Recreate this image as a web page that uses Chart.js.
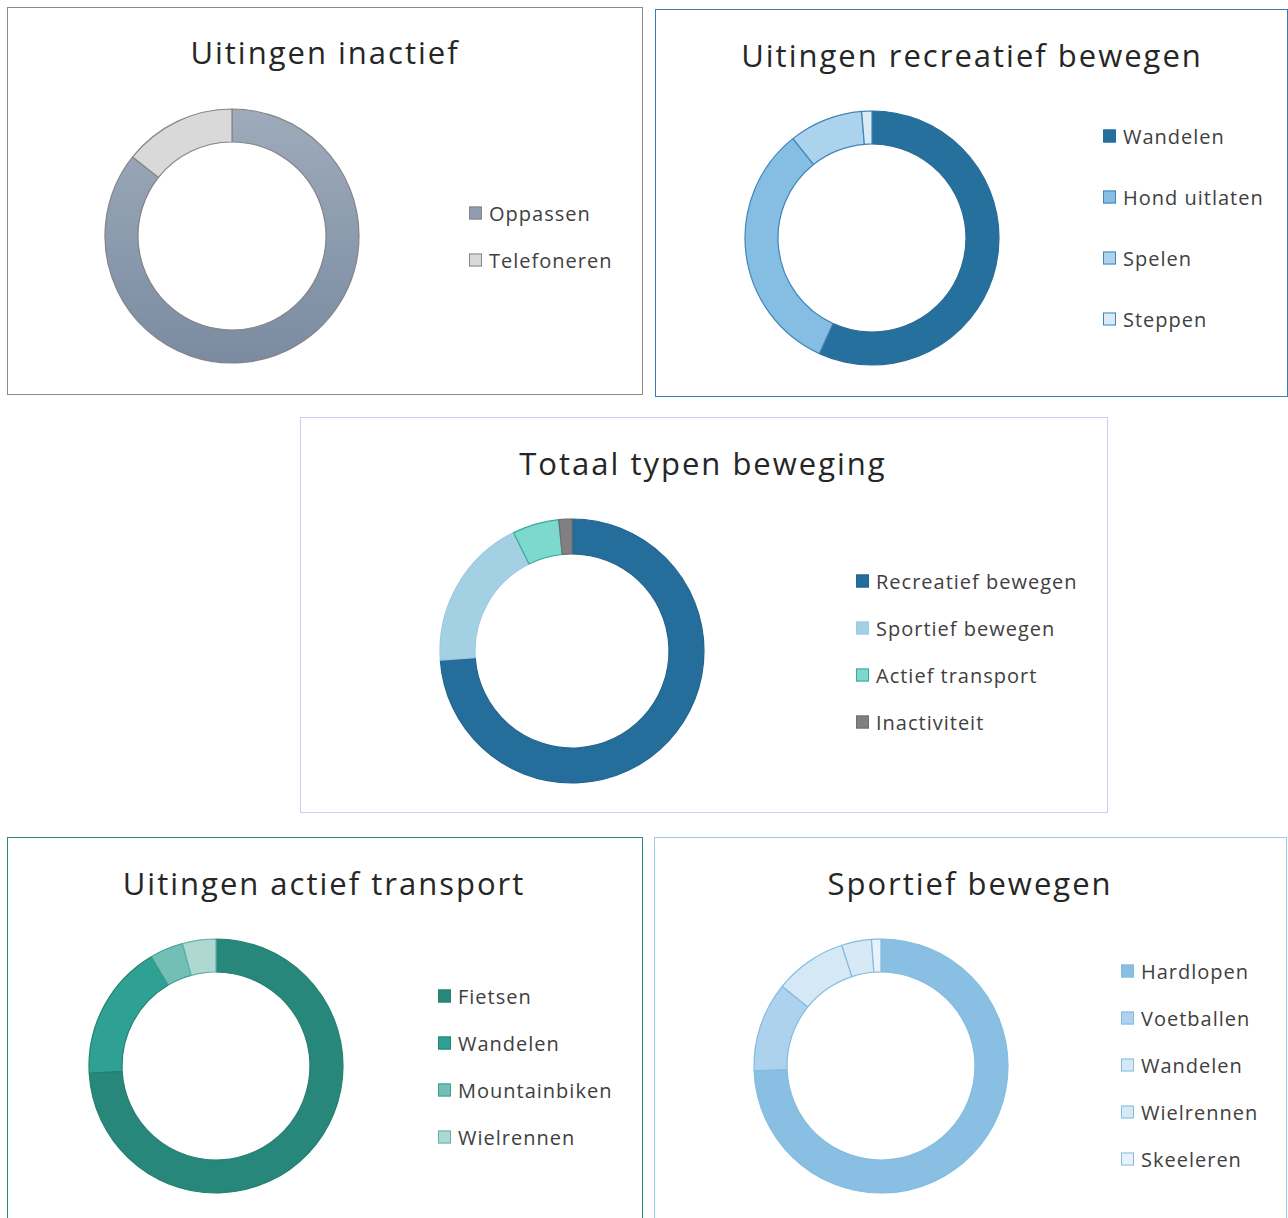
<!DOCTYPE html>
<html>
<head>
<meta charset="utf-8">
<script src="https://cdn.jsdelivr.net/npm/chart.js@4.4.1/dist/chart.umd.min.js"></script>
<style>
  html, body { margin: 0; padding: 0; background: #fff; }
  body { width: 1288px; height: 1218px; position: relative; overflow: hidden; font-family: "Open Sans", "Noto Sans", sans-serif; }
  .box { position: absolute; border: 1.5px solid #888; box-sizing: border-box; background: #fff; }
  .title { position: absolute; font-size: 31px; color: #262626; white-space: nowrap; transform: translate(-50%, -50%); letter-spacing: 2px; }
  .chart { position: absolute; }
  .leg { position: absolute; font-size: 20px; color: #404040; white-space: nowrap; transform: translateY(-50%); display: flex; align-items: center; letter-spacing: 1px; }
  .leg i { display: inline-block; width: 13px; height: 13px; margin-right: 7px; box-sizing: border-box; border: 1px solid #888; }
</style>
</head>
<body>
<script>
// ---- data ----
const inactiefLabels = ['Oppassen', 'Telefoneren'];
const inactiefValues = [85.7, 14.3];

const recreatiefLabels = ['Wandelen', 'Hond uitlaten', 'Spelen', 'Steppen'];
const recreatiefValues = [56.8, 32.5, 9.4, 1.3];

const totaalLabels = ['Recreatief bewegen', 'Sportief bewegen', 'Actief transport', 'Inactiviteit'];
const totaalValues = [73.9, 18.8, 5.7, 1.6];

const transportLabels = ['Fietsen', 'Wandelen', 'Mountainbiken', 'Wielrennen'];
const transportValues = [74.1, 17.4, 4.25, 4.25];

const sportiefLabels = ['Hardlopen', 'Voetballen', 'Wandelen', 'Wielrennen', 'Skeeleren'];
const sportiefValues = [74.4, 11.4, 9.2, 3.8, 1.2];

// ---- layout / styles ----
const charts = [
  { title: 'Uitingen inactief', labels: inactiefLabels, values: inactiefValues,
    box: [7, 7, 636, 388, '#8a8a8a'], titlePos: [325, 52],
    cx: 232, cy: 236, r: 127, cut: 94,
    colors: ['gradient', '#d9d9d9'], borders: ['#858585', '#858585'], swatch: ['#8e9db1', '#d9d9d9'],
    legX: 469, legY: 213, legGap: 47 },
  { title: 'Uitingen recreatief bewegen', labels: recreatiefLabels, values: recreatiefValues,
    box: [655, 9, 633, 388, '#3a7db5'], titlePos: [972, 55],
    cx: 872, cy: 238, r: 127, cut: 94,
    colors: ['#26709d', '#86bde2', '#acd3ee', '#dbeaf7'], borders: ['#2a6b98', '#3f85b8', '#3f85b8', '#3f85b8'],
    legX: 1103, legY: 136, legGap: 61 },
  { title: 'Totaal typen beweging', labels: totaalLabels, values: totaalValues,
    box: [300, 417, 808, 396, '#cdcdee'], titlePos: [703, 463],
    cx: 571.5, cy: 651, r: 132, cut: 97,
    colors: ['#256e9c', '#a4d0e4', '#7dd8cd', '#808080'], borders: ['#22658f', '#9ccbe0', '#3aa897', '#6f6f6f'],
    legX: 856, legY: 581, legGap: 47 },
  { title: 'Uitingen actief transport', labels: transportLabels, values: transportValues,
    box: [7, 837, 636, 420, '#2a8a7e'], titlePos: [324, 883],
    cx: 216, cy: 1066, r: 127, cut: 94,
    colors: ['#27877a', '#2ea194', '#74bfb5', '#b0d8d3'], borders: ['#24806f', '#24806f', '#3f9e92', '#5fb2a7'],
    legX: 438, legY: 996, legGap: 47 },
  { title: 'Sportief bewegen', labels: sportiefLabels, values: sportiefValues,
    box: [654, 837, 633, 420, '#9ccbe6'], titlePos: [970, 883],
    cx: 880.5, cy: 1066, r: 127, cut: 94,
    colors: ['#88bfe2', '#acd2ee', '#d5e8f6', '#d8e9f6', '#e8f2fa'], borders: ['#84bcdf', '#84bcdf', '#84bcdf', '#84bcdf', '#84bcdf'],
    legX: 1121, legY: 971, legGap: 47 }
];

charts.forEach((c) => {
  const [bx, by, bw, bh, bc] = c.box;
  const box = document.createElement('div');
  box.className = 'box';
  Object.assign(box.style, { left: bx + 'px', top: by + 'px', width: bw + 'px', height: bh + 'px', borderColor: bc });
  document.body.appendChild(box);

  const t = document.createElement('div');
  t.className = 'title';
  t.textContent = c.title;
  t.style.left = c.titlePos[0] + 'px';
  t.style.top = c.titlePos[1] + 'px';
  document.body.appendChild(t);

  const size = 2 * c.r + 4;
  const wrap = document.createElement('div');
  wrap.className = 'chart';
  Object.assign(wrap.style, { left: (c.cx - size / 2) + 'px', top: (c.cy - size / 2) + 'px', width: size + 'px', height: size + 'px' });
  const cv = document.createElement('canvas');
  wrap.appendChild(cv);
  document.body.appendChild(wrap);

  // one scriptable colour function (arrays of functions are not resolved)
  const bg = (ctx) => {
    const col = c.colors[ctx.dataIndex];
    if (col !== 'gradient') return col;
    const area = ctx.chart.chartArea;
    if (!area) return '#8e9db1';
    const g = ctx.chart.ctx.createLinearGradient(0, area.top, 0, area.bottom);
    g.addColorStop(0, '#9eabbb');
    g.addColorStop(1, '#7a8ba1');
    return g;
  };

  new Chart(cv, {
    type: 'doughnut',
    data: { labels: c.labels, datasets: [{ data: c.values, backgroundColor: bg, borderColor: c.borders, borderWidth: 1.2 }] },
    options: {
      responsive: true, maintainAspectRatio: false, animation: false,
      radius: c.r, cutout: (c.cut / c.r * 100) + '%',
      plugins: { legend: { display: false }, tooltip: { enabled: false } }
    }
  });

  c.labels.forEach((lab, i) => {
    const row = document.createElement('div');
    row.className = 'leg';
    row.style.left = c.legX + 'px';
    row.style.top = (c.legY + i * c.legGap) + 'px';
    const sw = document.createElement('i');
    sw.style.background = (c.swatch || c.colors)[i];
    sw.style.borderColor = c.borders[i];
    row.appendChild(sw);
    row.appendChild(document.createTextNode(lab));
    document.body.appendChild(row);
  });
});
</script>
</body>
</html>
